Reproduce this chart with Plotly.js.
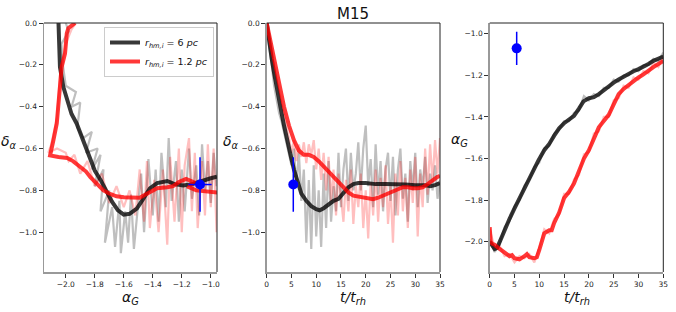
<!DOCTYPE html>
<html><head><meta charset="utf-8">
<script src="https://cdn.plot.ly/plotly-3.0.1.min.js"></script>
<style>body{margin:0;padding:0;background:#fff}#c{width:676px;height:312px}</style>
</head><body><div id="c"></div>
<script>
// ---------- Panel 1: delta_alpha vs alpha_G ----------
const p1BlackA = [-2.05,-2.045,-2.04,-2.017,-1.99,-1.96,-1.925,-1.88,-1.855,-1.83,-1.80,-1.76,-1.72,-1.68,-1.64,-1.60,-1.56,-1.51,-1.47,-1.42,-1.37,-1.30,-1.25,-1.19,-1.13,-1.07,-1.0,-0.957];
const p1BlackD = [0,-0.1,-0.21,-0.305,-0.37,-0.435,-0.48,-0.56,-0.61,-0.66,-0.705,-0.75,-0.80,-0.855,-0.895,-0.916,-0.912,-0.887,-0.845,-0.79,-0.765,-0.755,-0.77,-0.777,-0.77,-0.755,-0.742,-0.734];
const p1RedA = [-1.936,-1.982,-1.993,-2.005,-2.028,-2.04,-2.05,-2.062,-2.085,-2.097,-2.108,-2.05,-1.99,-1.95,-1.90,-1.86,-1.83,-1.78,-1.74,-1.70,-1.65,-1.60,-1.55,-1.49,-1.45,-1.40,-1.37,-1.30,-1.26,-1.22,-1.17,-1.12,-1.15,-1.10,-1.0,-0.95];
const p1RedD = [0,-0.025,-0.05,-0.145,-0.21,-0.305,-0.40,-0.48,-0.56,-0.60,-0.633,-0.64,-0.645,-0.66,-0.69,-0.71,-0.737,-0.77,-0.80,-0.815,-0.828,-0.833,-0.836,-0.835,-0.82,-0.80,-0.79,-0.785,-0.78,-0.76,-0.745,-0.76,-0.785,-0.80,-0.81,-0.81];
const p1GrayA = [-2.0,-1.98,-2.03,-2.02,-2.0,-1.93,-1.96,-1.90,-1.92,-1.88,-1.82,-1.86,-1.78,-1.82,-1.76,-1.80,-1.74,-1.76,-1.70,-1.73,-1.68,-1.66,-1.63,-1.62,-1.59,-1.57,-1.55,-1.53,-1.50,-1.48,-1.46,-1.43,-1.40,-1.38,-1.36,-1.34,-1.31,-1.29,-1.27,-1.24,-1.22,-1.20,-1.18,-1.15,-1.13,-1.10,-1.08,-1.06,-1.04,-1.02,-1.0,-0.98,-0.96];
const p1GrayD = [0,-0.04,-0.1,-0.2,-0.3,-0.33,-0.4,-0.38,-0.5,-0.55,-0.52,-0.62,-0.6,-0.7,-0.63,-0.78,-0.70,-0.90,-0.80,-1.05,-0.88,-1.07,-0.85,-1.10,-0.90,-1.05,-0.82,-1.08,-0.86,-0.72,-1.0,-0.65,-0.92,-0.70,-0.95,-0.62,-0.88,-0.55,-0.85,-0.66,-0.95,-0.70,-0.90,-0.60,-0.84,-0.68,-0.92,-0.58,-0.80,-0.66,-0.86,-0.62,-0.78];
const p1PinkA = [-1.93,-1.96,-2.0,-2.04,-2.06,-2.1,-2.12,-2.06,-2.0,-1.98,-1.94,-1.90,-1.85,-1.80,-1.75,-1.70,-1.65,-1.60,-1.56,-1.52,-1.49,-1.46,-1.44,-1.42,-1.39,-1.36,-1.33,-1.30,-1.28,-1.25,-1.22,-1.20,-1.18,-1.15,-1.13,-1.11,-1.09,-1.06,-1.04,-1.02,-1.0,-0.98,-0.96];
const p1PinkD = [0,-0.03,-0.1,-0.25,-0.45,-0.58,-0.62,-0.60,-0.62,-0.66,-0.63,-0.72,-0.66,-0.78,-0.72,-0.86,-0.78,-0.88,-0.80,-0.92,-0.70,-0.95,-0.66,-0.98,-0.75,-1.0,-0.70,-1.06,-0.64,-0.95,-0.60,-1.0,-0.68,-0.55,-0.90,-0.62,-0.98,-0.66,-0.92,-0.58,-0.88,-0.60,-1.0];
const p1ObsA = [-1.074], p1ObsD = [-0.772], p1ObsAerr = [0.08], p1ObsDerr = [0.13];

// ---------- Panel 2: delta_alpha vs t/t_rh ----------
const p2BlackT = [0,0.5,1,1.5,2,2.5,3,3.5,4,4.5,5,5.5,6,6.5,7,8,9,10,10.7,11.5,12.5,13.5,14.5,15.5,16.5,17.5,18.5,20,22,24,26,28,30,32,33,34,35];
const p2BlackD = [0,-0.1,-0.17,-0.24,-0.31,-0.37,-0.43,-0.49,-0.55,-0.6,-0.65,-0.7,-0.74,-0.78,-0.815,-0.85,-0.875,-0.89,-0.895,-0.885,-0.865,-0.85,-0.84,-0.81,-0.785,-0.77,-0.765,-0.765,-0.77,-0.77,-0.77,-0.772,-0.775,-0.775,-0.78,-0.775,-0.765];
const p2RedT = [0,0.5,1,1.7,2.5,3.5,4.5,5.5,6.5,7.5,8.5,9.5,10.5,11.5,12.5,13.5,14.5,15.5,16.5,17.5,18.5,19.5,20.5,21.5,22.5,23.5,24.5,25.5,26.5,27.5,28.5,29.5,30.5,31.5,32.5,33.5,34.5,35];
const p2RedD = [0,-0.06,-0.12,-0.2,-0.29,-0.4,-0.49,-0.56,-0.61,-0.63,-0.63,-0.64,-0.66,-0.685,-0.71,-0.74,-0.765,-0.79,-0.81,-0.825,-0.83,-0.835,-0.84,-0.842,-0.835,-0.825,-0.812,-0.80,-0.79,-0.785,-0.785,-0.79,-0.79,-0.785,-0.77,-0.75,-0.735,-0.73];
const p2GrayT = [0,0.5,1,1.5,2,2.5,3,3.5,4,4.5,5,5.5,6,6.5,7,7.5,8,8.5,9,9.5,10,10.5,11,11.5,12,12.5,13,13.5,14,14.5,15,15.5,16,16.5,17,17.5,18,18.5,19,19.5,20,20.5,21,21.5,22,22.5,23,23.5,24,24.5,25,25.5,26,26.5,27,27.5,28,28.5,29,29.5,30,30.5,31,31.5,32,32.5,33,33.5,34,34.5,35];
const p2GrayD = [-0.02,-0.10,-0.20,-0.30,-0.37,-0.43,-0.47,-0.52,-0.58,-0.62,-0.68,-0.60,-0.78,-0.62,-0.85,-0.70,-1.05,-0.75,-1.08,-0.68,-1.02,-0.80,-1.07,-0.72,-0.98,-0.66,-0.95,-0.78,-0.90,-0.62,-0.88,-0.70,-0.60,-0.85,-0.62,-0.80,-0.72,-0.57,-0.80,-0.60,-0.49,-0.78,-0.65,-0.88,-0.58,-0.82,-0.66,-0.90,-0.70,-0.62,-0.85,-0.64,-0.92,-0.70,-0.60,-0.84,-0.72,-0.95,-0.66,-0.80,-0.62,-0.88,-0.70,-0.78,-0.64,-0.86,-0.72,-0.80,-0.68,-0.84,-0.75];
const p2PinkT = [0,0.5,1,1.5,2,2.5,3,3.5,4,4.5,5,5.5,6,6.5,7,7.5,8,8.5,9,9.5,10,10.5,11,11.5,12,12.5,13,13.5,14,14.5,15,15.5,16,16.5,17,17.5,18,18.5,19,19.5,20,20.5,21,21.5,22,22.5,23,23.5,24,24.5,25,25.5,26,26.5,27,27.5,28,28.5,29,29.5,30,30.5,31,31.5,32,32.5,33,33.5,34,34.5,35];
const p2PinkD = [-0.01,-0.08,-0.15,-0.21,-0.27,-0.33,-0.39,-0.45,-0.50,-0.55,-0.62,-0.56,-0.66,-0.58,-0.64,-0.57,-0.67,-0.58,-0.63,-0.56,-0.70,-0.60,-0.75,-0.62,-0.80,-0.64,-0.85,-0.70,-0.92,-0.72,-0.82,-0.95,-0.75,-0.90,-0.70,-0.96,-0.78,-0.88,-0.72,-0.98,-0.80,-1.03,-0.76,-0.92,-0.70,-0.95,-0.74,-0.88,-0.68,-0.96,-0.78,-1.05,-0.72,-0.92,-0.66,-0.90,-0.74,-0.98,-0.70,-0.86,-0.64,-1.02,-0.72,-0.88,-0.60,-0.82,-0.58,-0.76,-0.56,-0.72,-0.55];
const p2ObsT = [5.37], p2ObsD = [-0.772], p2ObsDerr = [0.13];

// ---------- Panel 3: alpha_G vs t/t_rh ----------
const p3BlackT = [0,0.5,1,1.5,2,2.5,3,4,5,5.4,6,7,8,9,9.8,11,12,13,14,15,16,17,18,18.9,20,21,22,23,24,25,26,27,28,29,30,31,32,33,34,35];
const p3BlackA = [-2.0,-2.02,-2.035,-2.03,-2.0,-1.97,-1.94,-1.89,-1.84,-1.82,-1.79,-1.745,-1.695,-1.65,-1.61,-1.56,-1.53,-1.49,-1.455,-1.43,-1.41,-1.395,-1.36,-1.325,-1.31,-1.305,-1.29,-1.27,-1.25,-1.235,-1.22,-1.205,-1.195,-1.18,-1.17,-1.16,-1.145,-1.13,-1.12,-1.11];
const p3RedT = [0,0.2,0.5,1,2,3,4,4.5,5,6,6.5,7,7.5,8,9,9.5,10,10.5,11,12,12.5,13,14,15,16,17,18,19,20,21,22,23,24,25,26,27,28,29,30,31,32,33,34,35];
const p3RedA = [-1.93,-2.0,-2.01,-2.015,-2.035,-2.05,-2.07,-2.065,-2.08,-2.085,-2.08,-2.07,-2.06,-2.075,-2.08,-2.075,-2.04,-2.0,-1.96,-1.945,-1.945,-1.91,-1.86,-1.79,-1.76,-1.72,-1.66,-1.60,-1.56,-1.50,-1.45,-1.42,-1.39,-1.34,-1.29,-1.265,-1.245,-1.23,-1.21,-1.195,-1.175,-1.16,-1.145,-1.13];
const p3GrayT = [0,1,2,3,4,5,6,7,8,9,10,11,12,13,14,15,16,17,18,19,20,21,22,23,24,25,26,27,28,29,30,31,32,33,34,35];
const p3GrayA = [-1.99,-2.05,-2.01,-1.93,-1.90,-1.83,-1.80,-1.73,-1.70,-1.64,-1.62,-1.55,-1.54,-1.48,-1.46,-1.42,-1.42,-1.38,-1.37,-1.30,-1.32,-1.29,-1.30,-1.26,-1.26,-1.22,-1.23,-1.20,-1.20,-1.17,-1.18,-1.15,-1.15,-1.12,-1.13,-1.09];
const p3PinkT = [0,1,2,3,4,5,6,7,8,9,10,11,12,13,14,15,16,17,18,19,20,21,22,23,24,25,26,27,28,29,30,31,32,33,34,35];
const p3PinkA = [-1.94,-2.03,-2.02,-2.07,-2.06,-2.10,-2.07,-2.08,-2.06,-2.10,-2.03,-1.94,-1.96,-1.89,-1.87,-1.77,-1.77,-1.70,-1.68,-1.58,-1.57,-1.48,-1.47,-1.40,-1.40,-1.32,-1.31,-1.25,-1.26,-1.21,-1.22,-1.18,-1.19,-1.14,-1.16,-1.11];
const p3ObsT = [5.44], p3ObsA = [-1.07], p3ObsAerr = [0.08];

// ---------- labels ----------
const legendNames = ['<i>r<sub>hm,i</sub></i> = 6 <i>pc</i>', '<i>r<sub>hm,i</sub></i> = 1.2 <i>pc</i>'];
const chartTitle = 'M15';
const ticksDelta = [0, -0.2, -0.4, -0.6, -0.8, -1.0];
const ticksAlphaX = [-2.0, -1.8, -1.6, -1.4, -1.2, -1.0];
const ticksT = [0, 5, 10, 15, 20, 25, 30, 35];
const ticksAlphaY = [-1.0, -1.2, -1.4, -1.6, -1.8, -2.0];

const FONT = 'DejaVu Sans';
const cBlack = 'rgba(0,0,0,0.78)', cRed = 'rgba(255,0,0,0.78)';
const cGray = 'rgba(128,128,128,0.5)', cPink = 'rgba(255,0,0,0.25)';
const W = 676, H = 312;
function noise(x, y, c, xa, ya){ return {x, y, mode:'lines', line:{color:c, width:2.2}, xaxis:xa, yaxis:ya, showlegend:false, hoverinfo:'skip'}; }
function smooth(x, y, c, xa, ya, name, show){ return {x, y, mode:'lines', line:{color:c, width:4}, xaxis:xa, yaxis:ya, name, showlegend:!!show}; }
function obs(x, y, ex, ey, xa, ya){
  const t = {x, y, mode:'markers', marker:{color:'blue', size:10}, xaxis:xa, yaxis:ya, showlegend:false,
    error_y:{type:'data', array:ey, color:'blue', thickness:1.5, width:0}};
  if (ex) t.error_x = {type:'data', array:ex, color:'blue', thickness:1.5, width:0};
  return t;
}
const traces = [
  noise(p1GrayA, p1GrayD, cGray, 'x', 'y'),
  noise(p1PinkA, p1PinkD, cPink, 'x', 'y'),
  smooth(p1BlackA, p1BlackD, cBlack, 'x', 'y', legendNames[0], true),
  smooth(p1RedA, p1RedD, cRed, 'x', 'y', legendNames[1], true),
  obs(p1ObsA, p1ObsD, p1ObsAerr, p1ObsDerr, 'x', 'y'),
  noise(p2GrayT, p2GrayD, cGray, 'x2', 'y2'),
  noise(p2PinkT, p2PinkD, cPink, 'x2', 'y2'),
  smooth(p2BlackT, p2BlackD, cBlack, 'x2', 'y2'),
  smooth(p2RedT, p2RedD, cRed, 'x2', 'y2'),
  obs(p2ObsT, p2ObsD, null, p2ObsDerr, 'x2', 'y2'),
  noise(p3GrayT, p3GrayA, cGray, 'x3', 'y3'),
  noise(p3PinkT, p3PinkA, cPink, 'x3', 'y3'),
  smooth(p3BlackT, p3BlackA, cBlack, 'x3', 'y3'),
  smooth(p3RedT, p3RedA, cRed, 'x3', 'y3'),
  obs(p3ObsT, p3ObsA, null, p3ObsAerr, 'x3', 'y3')
];
const yDom = [1 - 272/H, 1 - 23/H];
function ax(dom, range, tickvals, fmt, anchor){
  return {domain:dom, range, tickvals, tickformat:fmt, anchor, showgrid:false, zeroline:false,
    showline:true, linecolor:'#999', linewidth:1.5, ticks:'outside', ticklen:4, tickwidth:1, tickcolor:'#333',
    tickfont:{family:FONT, size:7.5, color:'#222'}};
}
const shapes = [];
[['x','y'],['x2','y2'],['x3','y3']].forEach(([xa,ya])=>{
  shapes.push({type:'line', xref:xa+' domain', yref:ya+' domain', x0:0, x1:1, y0:1, y1:1, line:{color:'#222', width:1}});
  shapes.push({type:'line', xref:xa+' domain', yref:ya+' domain', x0:1, x1:1, y0:0, y1:1, line:{color:'#222', width:1}});
});
function lab(text, x, y, anchor){ return {text, x:x/W, y:1-y/H, xref:'paper', yref:'paper', showarrow:false, xanchor:anchor||'center', yanchor:'middle', font:{family:FONT, size:14, color:'#111'}}; }
const layout = {
  width:W, height:H, margin:{l:0, r:0, t:0, b:0}, paper_bgcolor:'#fff', plot_bgcolor:'#fff',
  font:{family:FONT},
  title:{text:chartTitle, x:353/W, xanchor:'center', y:1-14/H, yanchor:'middle', font:{family:FONT, size:15, color:'#111'}},
  xaxis: ax([44/W, 217/W], [-2.15, -0.957], ticksAlphaX, '.1f', 'y'),
  yaxis: ax(yDom, [-1.19, 0], ticksDelta, '.1f', 'x'),
  xaxis2: ax([266.7/W, 440/W], [0, 35], ticksT, 'd', 'y2'),
  yaxis2: ax(yDom, [-1.19, 0], ticksDelta, '.1f', 'x2'),
  xaxis3: ax([489.7/W, 663.3/W], [0, 35], ticksT, 'd', 'y3'),
  yaxis3: ax(yDom, [-2.146, -0.948], ticksAlphaY, '.1f', 'x3'),
  shapes,
  showlegend:true,
  legend:{x:214/W, xanchor:'right', y:1-27/H, yanchor:'top', bgcolor:'rgba(255,255,255,0.9)', bordercolor:'#ccc', borderwidth:1,
    font:{family:FONT, size:9.5, color:'#111'}, tracegroupgap:0, itemwidth:30},
  annotations:[
    lab('<i>δ<sub>α</sub></i>', 19, 142, 'right'), lab('<i>δ<sub>α</sub></i>', 241, 142, 'right'), lab('<i>α<sub>G</sub></i>', 470, 140, 'right'),
    lab('<i>α<sub>G</sub></i>', 130, 298), lab('<i>t/t<sub>rh</sub></i>', 353, 298), lab('<i>t/t<sub>rh</sub></i>', 577, 298)
  ]
};
Plotly.newPlot('c', traces, layout, {staticPlot:true, displayModeBar:false});
</script></body></html>
